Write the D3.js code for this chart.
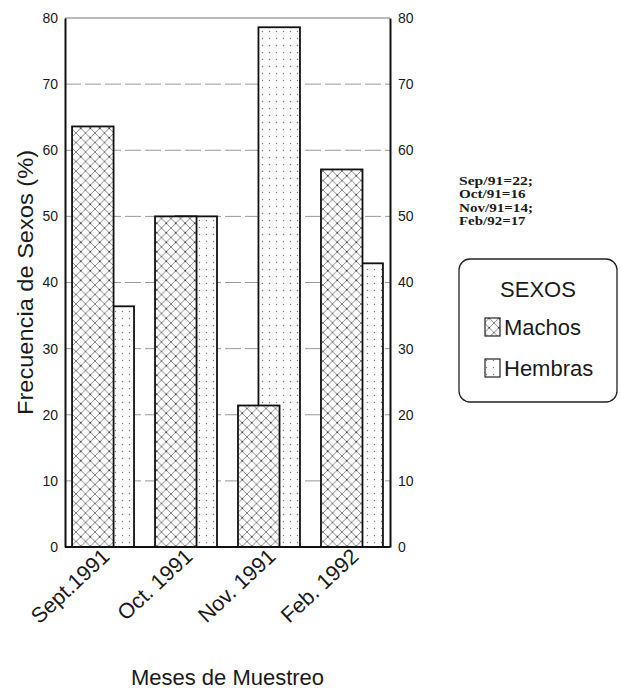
<!DOCTYPE html>
<html>
<head>
<meta charset="utf-8">
<script src="https://cdn.jsdelivr.net/npm/d3@7"></script>
<style>
  html, body { margin: 0; padding: 0; background: #fff; }
  svg { display: block; }
  text { font-family: "Liberation Sans", Arial, sans-serif; fill: #1a1a1a; }
</style>
</head>
<body>
<svg id="chart" width="621" height="698"></svg>
<script>
// ---- data ----
const months = ["Sept.1991", "Oct. 1991", "Nov. 1991", "Feb. 1992"];
const machos = [63.6, 50.0, 21.4, 57.1];
const hembras = [36.4, 50.0, 78.6, 42.9];
const yTicks = [0, 10, 20, 30, 40, 50, 60, 70, 80];
const sampleNotes = ["Sep/91=22;", "Oct/91=16", "Nov/91=14;", "Feb/92=17"];
const legendTitle = "SEXOS";
const seriesNames = ["Machos", "Hembras"];
const xTitle = "Meses de Muestreo";
const yTitle = "Frecuencia de Sexos (%)";

// ---- layout ----
const svg = d3.select("#chart");
const pL = 65, pR = 390, pT = 18, pB = 547;

const x = d3.scaleBand().domain(months).range([pL, pR])
  .paddingInner(0.253).paddingOuter(0.085);
const y = d3.scaleLinear().domain([0, 80]).range([pB, pT]);

// patterns
const defs = svg.append("defs");
const hs = 9.5;
const ph = defs.append("pattern").attr("id", "hatch")
  .attr("patternUnits", "userSpaceOnUse").attr("width", hs).attr("height", hs);
ph.append("rect").attr("width", hs).attr("height", hs).attr("fill", "#fff");
ph.append("path").attr("d", `M0,0L${hs},${hs}M0,${hs}L${hs},0`)
  .attr("stroke", "#666").attr("stroke-width", 0.8);
ph.append("circle").attr("cx", hs / 2).attr("cy", hs / 2).attr("r", 0.9).attr("fill", "#333");

const ds = 7;
const pd = defs.append("pattern").attr("id", "dots")
  .attr("patternUnits", "userSpaceOnUse").attr("width", ds).attr("height", ds);
pd.append("rect").attr("width", ds).attr("height", ds).attr("fill", "#fff");
pd.append("circle").attr("cx", 3.5).attr("cy", 3.5).attr("r", 0.7).attr("fill", "#777");

// gridlines
svg.append("g").selectAll("line").data(yTicks.filter(d => d > 0 && d < 80)).join("line")
  .attr("x1", pL).attr("x2", pR)
  .attr("y1", d => y(d)).attr("y2", d => y(d))
  .attr("stroke", "#999").attr("stroke-width", 1).attr("stroke-dasharray", "16,4");

// top line
svg.append("line").attr("x1", pL).attr("x2", pR).attr("y1", y(80)).attr("y2", y(80))
  .attr("stroke", "#777").attr("stroke-width", 1.2);

// bars
const bw = x.bandwidth();
const barW = bw * 0.67;
const bars = svg.append("g");
// hembras behind
bars.selectAll("rect.h").data(months).join("rect").attr("class", "h")
  .attr("x", d => x(d) + bw - barW)
  .attr("y", (d, i) => y(hembras[i]))
  .attr("width", barW)
  .attr("height", (d, i) => y(0) - y(hembras[i]))
  .attr("fill", "url(#dots)").attr("stroke", "#111").attr("stroke-width", 1.8);
// machos in front
bars.selectAll("rect.m").data(months).join("rect").attr("class", "m")
  .attr("x", d => x(d))
  .attr("y", (d, i) => y(machos[i]))
  .attr("width", barW)
  .attr("height", (d, i) => y(0) - y(machos[i]))
  .attr("fill", "url(#hatch)").attr("stroke", "#111").attr("stroke-width", 1.8);

// axes
const yl = svg.append("g").attr("transform", `translate(${pL},0)`)
  .call(d3.axisLeft(y).tickValues(yTicks).tickSize(0).tickPadding(7));
yl.select(".domain").attr("stroke", "#111").attr("stroke-width", 2);
yl.selectAll("text").style("font-size", "14px").attr("fill", "#1a1a1a");

const yr = svg.append("g").attr("transform", `translate(${pR},0)`)
  .call(d3.axisRight(y).tickValues(yTicks).tickSize(0).tickPadding(8));
yr.select(".domain").attr("stroke", "#111").attr("stroke-width", 2);
yr.selectAll("text").style("font-size", "14px").attr("fill", "#1a1a1a");

// baseline
svg.append("line").attr("x1", pL).attr("x2", pR).attr("y1", y(0)).attr("y2", y(0))
  .attr("stroke", "#111").attr("stroke-width", 1.8);

// x tick labels (rotated)
svg.append("g").selectAll("text").data(months).join("text")
  .attr("transform", d => `translate(${x(d) + bw / 2 + 8},${pB + 11}) rotate(-43)`)
  .attr("text-anchor", "end")
  .style("font-size", "21.5px")
  .text(d => d);

// axis titles
svg.append("text").attr("x", (pL + pR) / 2).attr("y", 685)
  .attr("text-anchor", "middle").style("font-size", "22px").text(xTitle);
svg.append("text")
  .attr("transform", `translate(33,${(pT + pB) / 2}) rotate(-90)`)
  .attr("text-anchor", "middle").style("font-size", "22px").attr("fill", "#333")
  .attr("textLength", 265).attr("lengthAdjust", "spacingAndGlyphs")
  .text(yTitle);

// sample size notes
svg.append("g").selectAll("text").data(sampleNotes).join("text")
  .attr("x", 459).attr("y", (d, i) => 185 + i * 13.3)
  .style("font-family", "'Liberation Serif', 'Times New Roman', serif")
  .style("font-size", "11.5px").style("font-weight", "bold")
  .attr("textLength", d => d.length * 7.4).attr("lengthAdjust", "spacingAndGlyphs")
  .text(d => d);

// legend
const lg = svg.append("g");
lg.append("rect").attr("x", 459).attr("y", 259).attr("width", 158).attr("height", 143)
  .attr("rx", 11).attr("ry", 11)
  .attr("fill", "#fff").attr("stroke", "#222").attr("stroke-width", 1.3);
lg.append("text").attr("x", 538).attr("y", 297).attr("text-anchor", "middle")
  .style("font-size", "22px").text(legendTitle);
const fills = ["url(#hatch)", "url(#dots)"];
seriesNames.forEach((s, i) => {
  const yy = 335 + i * 41;
  lg.append("rect").attr("x", 485).attr("y", yy - 17).attr("width", 15).attr("height", 18)
    .attr("fill", fills[i]).attr("stroke", "#222").attr("stroke-width", 1.2);
  lg.append("text").attr("x", 504).attr("y", yy).style("font-size", "22px").text(s);
});
</script>
</body>
</html>
